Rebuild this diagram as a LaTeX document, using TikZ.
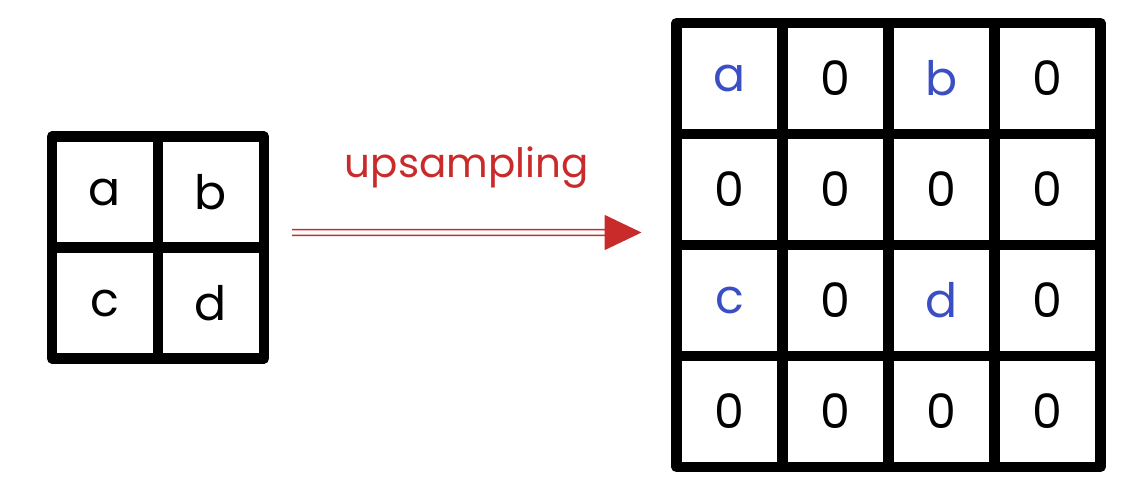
\documentclass[tikz,border=0pt]{standalone}
\usepackage{fontspec}
\setmainfont{Poppins}
\usetikzlibrary{positioning,arrows.meta}
\definecolor{upsred}{HTML}{C92A2A}
\definecolor{valblue}{HTML}{3B4FC4}

\begin{document}
\begin{tikzpicture}[
  node distance=0pt,
  every node/.style={font=\fontsize{27}{30}\selectfont},
  cell/.style={
    draw, line width=6pt, line join=round,
    minimum width=2.12cm, minimum height=2.22cm,
    inner sep=0pt, outer sep=0pt
  },
  val/.style={cell, text=valblue},
  upsarrow/.style={
    draw=upsred, line width=0.9pt, double=white, double distance=2.4pt,
    -{Triangle[length=0.74cm, width=0.7cm]}
  }
]
\useasboundingbox (0,0) rectangle (22.86,-10.04);

% input 2x2
\node[cell] (a) at (2.1,-3.84) {a};
\node[cell, right=of a] (b) {b};
\node[cell, below=of a] (c) {c};
\node[cell, right=of c] (d) {d};

% output 4x4
\node[val] (o11) at (14.59,-1.57) {a};
\node[cell, right=of o11] (o12) {0};
\node[val, right=of o12] (o13) {b};
\node[cell, right=of o13] (o14) {0};

\node[cell, below=of o11] (o21) {0};
\node[cell, right=of o21] (o22) {0};
\node[cell, right=of o22] (o23) {0};
\node[cell, right=of o23] (o24) {0};

\node[val, below=of o21] (o31) {c};
\node[cell, right=of o31] (o32) {0};
\node[val, right=of o32] (o33) {d};
\node[cell, right=of o33] (o34) {0};

\node[cell, below=of o31] (o41) {0};
\node[cell, right=of o41] (o42) {0};
\node[cell, right=of o42] (o43) {0};
\node[cell, right=of o43] (o44) {0};

\draw[upsarrow] ([xshift=0.56cm,yshift=0.3cm]b.south east)
  -- ([xshift=-0.7cm,yshift=0.25cm]o21.south west)
  node[midway, above=0.86cm, inner sep=0pt, text=upsred,
       font=\fontsize{23}{26}\selectfont] (lbl) {upsampling};

\end{tikzpicture}
\end{document}
